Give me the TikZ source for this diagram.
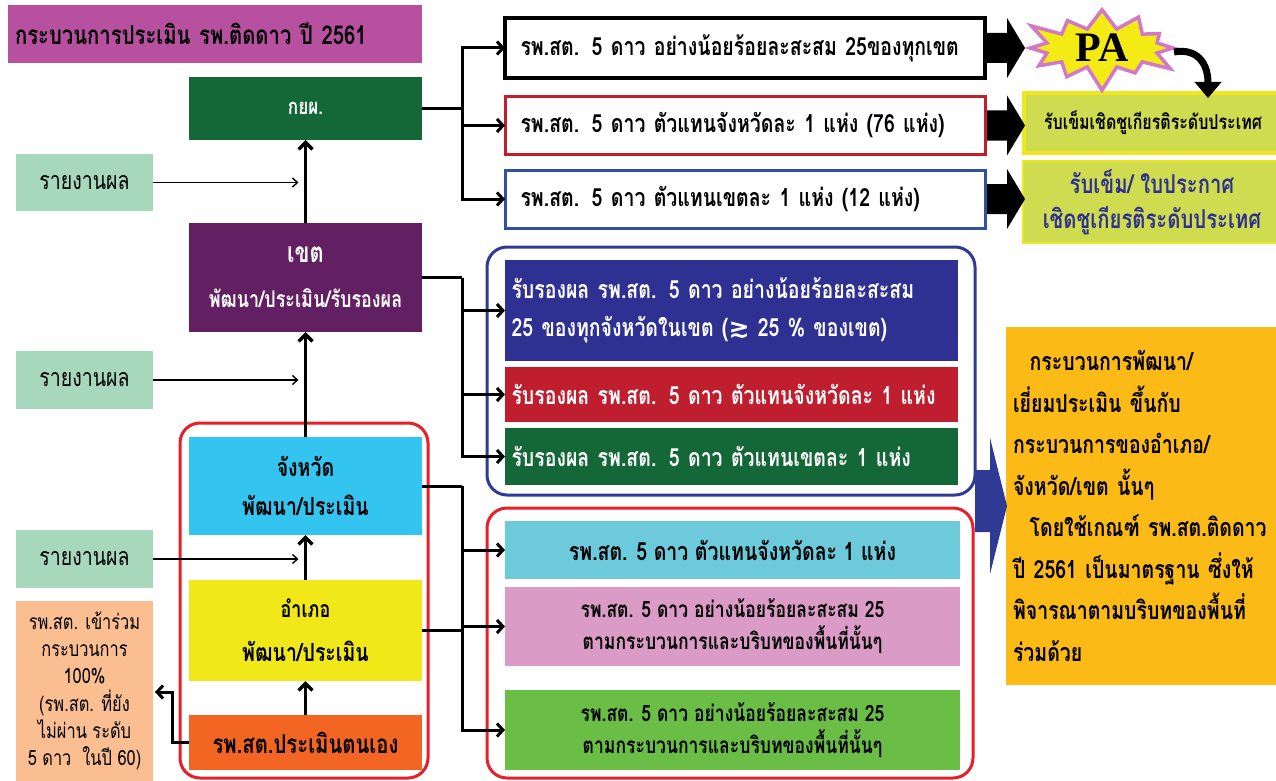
\documentclass[tikz,border=0pt]{standalone}
\usepackage{fontspec}
\newfontfamily\thai[Script=Thai,FakeStretch=0.78]{Loma}
\newfontfamily\pafont{Liberation Serif}
\newfontfamily\symfont{DejaVu Sans}
\usetikzlibrary{arrows.meta,shapes.symbols,calc}
\definecolor{cTitle}{RGB}{184,80,160}
\definecolor{cKyp}{RGB}{20,104,56}
\definecolor{cRep}{RGB}{168,216,188}
\definecolor{cKhet}{RGB}{98,32,98}
\definecolor{cChw}{RGB}{51,196,240}
\definecolor{cAmp}{RGB}{240,232,24}
\definecolor{cRps}{RGB}{242,101,34}
\definecolor{cPeach}{RGB}{250,190,145}
\definecolor{cNavy}{RGB}{46,49,146}
\definecolor{cRedB}{RGB}{190,30,45}
\definecolor{cD}{RGB}{108,202,218}
\definecolor{cE}{RGB}{218,155,198}
\definecolor{cF}{RGB}{106,189,69}
\definecolor{cGold}{RGB}{251,186,21}
\definecolor{cYG}{RGB}{208,220,80}
\definecolor{cYB}{RGB}{240,232,30}
\definecolor{cBlueF}{RGB}{46,58,148}
\definecolor{cBlue3}{RGB}{48,80,160}
\definecolor{cRedF}{RGB}{232,30,40}
\definecolor{cRed2}{RGB}{192,32,42}
\definecolor{cStarP}{RGB}{210,120,200}
\definecolor{cStarY}{RGB}{245,235,20}
\tikzset{
  bx/.style={inner sep=0pt, outer sep=0pt, anchor=north west, align=center, font=\thai\bfseries},
  conn/.style={line width=3pt, black},
  arr/.style={conn, -{Straight Barb[length=6pt,width=13pt]}},
  uparr/.style={line width=3.5pt, black, -{Straight Barb[length=7pt,width=14pt]}},
  thinarr/.style={line width=1.4pt, black, -{Straight Barb[length=5pt,width=9pt]}},
  frame/.style={line width=3pt, rounded corners=20pt},
}
\begin{document}
\begin{tikzpicture}[x=1pt,y=-1pt]
\useasboundingbox (0,0) rectangle (1276,781);
\clip (0,0) rectangle (1276,781);
\fill[white] (0,0) rectangle (1276,781);

% frames
\draw[frame, draw=cRedF] (180,423) rectangle (428,778);
\draw[frame, draw=cBlueF] (487,247) rectangle (975,495);
\draw[frame, draw=cRedF] (487,508) rectangle (973,778);

% title
\node[bx, fill=cTitle, minimum width=414pt, minimum height=58pt, text width=400pt, align=left, font=\thai\bfseries\fontsize{26}{30}\selectfont] (title) at (8,5) {กระบวนการประเมิน รพ.ติดดาว ปี 2561};

% left column
\node[bx, fill=cKyp, text=white, minimum width=233pt, minimum height=63pt, font=\thai\bfseries\fontsize{22}{26}\selectfont] (kyp) at (189,77) {กยผ.};
\node[bx, fill=cKhet, text=white, minimum width=233pt, minimum height=109pt, font=\thai\bfseries\fontsize{23}{45}\selectfont] (khet) at (189,223) {{\fontsize{28}{45}\selectfont เขต}\\พัฒนา/ประเมิน/รับรองผล};
\node[bx, fill=cChw, minimum width=233pt, minimum height=98pt, font=\thai\bfseries\fontsize{25}{39}\selectfont] (chw) at (189,437) {จังหวัด\\พัฒนา/ประเมิน};
\node[bx, fill=cAmp, minimum width=233pt, minimum height=101pt, font=\thai\bfseries\fontsize{23}{44}\selectfont] (amp) at (189,580) {อำเภอ\\{\fontsize{25}{44}\selectfont พัฒนา/ประเมิน}};
\node[bx, fill=cRps, minimum width=233pt, minimum height=55pt, font=\thai\bfseries\fontsize{26}{30}\selectfont] (rps) at (189,715) {รพ.สต.ประเมินตนเอง};

\node[bx, fill=cRep, minimum width=137pt, minimum height=57pt, font=\thai\fontsize{25}{28}\selectfont] (rep1) at (16,154) {รายงานผล};
\node[bx, fill=cRep, minimum width=137pt, minimum height=58pt, font=\thai\fontsize{25}{28}\selectfont] (rep2) at (16,351) {รายงานผล};
\node[bx, fill=cRep, minimum width=137pt, minimum height=58pt, font=\thai\fontsize{25}{28}\selectfont] (rep3) at (16,530) {รายงานผล};
\node[bx, fill=cPeach, minimum width=137pt, minimum height=180pt, font=\thai\fontsize{21}{27.3}\selectfont] (peach) at (16,601) {รพ.สต. เข้าร่วม\\กระบวนการ\\100\%\\(รพ.สต. ที่ยัง\\ไม่ผ่าน ระดับ\\5 ดาว~ ในปี 60)};

% top right outlined boxes
\node[bx, draw=black, line width=4pt, fill=white, minimum width=480pt, minimum height=60pt, text width=465pt, align=left, font=\thai\bfseries\fontsize{25}{29}\selectfont] (b1) at (505,18) {\hspace*{8pt}รพ.สต. 5 ดาว อย่างน้อยร้อยละสะสม 25ของทุกเขต};
\node[bx, draw=cRed2, line width=3pt, fill=white, minimum width=480pt, minimum height=57pt, text width=465pt, align=left, font=\thai\bfseries\fontsize{25}{29}\selectfont] (b2) at (505,97) {\hspace*{8pt}รพ.สต. 5 ดาว ตัวแทนจังหวัดละ 1 แห่ง (76 แห่ง)};
\node[bx, draw=cBlue3, line width=3pt, fill=white, minimum width=480pt, minimum height=58pt, text width=465pt, align=left, font=\thai\bfseries\fontsize{25}{29}\selectfont] (b3) at (505,170) {\hspace*{8pt}รพ.สต. 5 ดาว ตัวแทนเขตละ 1 แห่ง (12 แห่ง)};

% award boxes
\node[bx, draw=cYB, line width=4pt, fill=cYG, minimum width=258pt, minimum height=60pt, font=\thai\bfseries\fontsize{20.5}{24}\selectfont] (aw1) at (1024,93) {รับเข็มเชิดชูเกียรติระดับประเทศ};
\node[bx, draw=cYB, line width=2pt, fill=cYG, text=cNavy, minimum width=258pt, minimum height=82pt, font=\thai\bfseries\fontsize{26}{35}\selectfont] (aw2) at (1023,161) {รับเข็ม/ ใบประกาศ\\เชิดชูเกียรติระดับประเทศ};

% PA starburst
\node[starburst, starburst points=12, starburst point height=26pt, fill=cStarY, draw=cStarP, line width=3.5pt, minimum width=166pt, minimum height=62pt, inner sep=0pt, font=\pafont\bfseries\fontsize{42}{42}\selectfont] (pa) at (1102,48) {PA};

% blue box group
\node[bx, fill=cNavy, text=white, minimum width=453pt, minimum height=101pt, text width=440pt, align=left, font=\thai\bfseries\fontsize{25}{38}\selectfont] (ba) at (505,260) {รับรองผล รพ.สต. 5 ดาว อย่างน้อยร้อยละสะสม\\25 ของทุกจังหวัดในเขต ({\symfont ≳} 25 \% ของเขต)};
\node[bx, fill=cRedB, text=white, minimum width=453pt, minimum height=55pt, text width=440pt, align=left, font=\thai\bfseries\fontsize{25}{29}\selectfont] (bb) at (505,367) {รับรองผล รพ.สต. 5 ดาว ตัวแทนจังหวัดละ 1 แห่ง};
\node[bx, fill=cKyp, text=white, minimum width=453pt, minimum height=57pt, text width=440pt, align=left, font=\thai\bfseries\fontsize{25}{29}\selectfont] (bc) at (505,428) {รับรองผล รพ.สต. 5 ดาว ตัวแทนเขตละ 1 แห่ง};

% red box group
\node[bx, fill=cD, minimum width=455pt, minimum height=58pt, font=\thai\bfseries\fontsize{25}{29}\selectfont] (bd) at (505,521) {รพ.สต. 5 ดาว ตัวแทนจังหวัดละ 1 แห่ง};
\node[bx, fill=cE, minimum width=455pt, minimum height=79pt, font=\thai\bfseries\fontsize{22.5}{32}\selectfont] (be) at (505,587) {รพ.สต. 5 ดาว อย่างน้อยร้อยละสะสม 25\\ตามกระบวนการและบริบทของพื้นที่นั้นๆ};
\node[bx, fill=cF, minimum width=455pt, minimum height=80pt, font=\thai\bfseries\fontsize{22.5}{32}\selectfont] (bf) at (505,690) {รพ.สต. 5 ดาว อย่างน้อยร้อยละสะสม 25\\ตามกระบวนการและบริบทของพื้นที่นั้นๆ};

% gold note
\node[bx, fill=cGold, minimum width=270pt, minimum height=358pt, text width=264pt, align=left, font=\thai\bfseries\fontsize{25}{41.5}\selectfont] (note) at (1006,327) {\hspace*{4pt}~~กระบวนการพัฒนา/\\\hspace*{4pt}เยี่ยมประเมิน ขึ้นกับ\\\hspace*{4pt}กระบวนการของอำเภอ/\\\hspace*{4pt}จังหวัด/เขต นั้นๆ\\\hspace*{4pt}~~โดยใช้เกณฑ์ รพ.สต.ติดดาว\\\hspace*{4pt}ปี 2561 เป็นมาตรฐาน ซึ่งให้\\\hspace*{4pt}พิจารณาตามบริบทของพื้นที่\\\hspace*{4pt}ร่วมด้วย};

% blue big arrow
\fill[cBlueF] (975,470) -- (990,470) -- (990,438) -- (1007,506) -- (990,574) -- (990,532) -- (975,532) -- cycle;

% vertical arrows in left column
\draw[uparr] (khet.north) -- (kyp.south);
\draw[uparr] (chw.north) -- (khet.south);
\draw[uparr] (amp.north) -- (chw.south);
\draw[uparr] (rps.north) -- (amp.south);

% report arrows
\coordinate (e1) at ($(rep1.east -| kyp.south)+(-7,0)$);
\coordinate (e2) at ($(rep2.east -| kyp.south)+(-7,0)$);
\coordinate (e3) at ($(rep3.east -| kyp.south)+(-7,0)$);
\draw[thinarr] (rep1.east) -- (e1);
\draw[thinarr] (rep2.east) -- (e2);
\draw[thinarr] (rep3.east) -- (e3);

% self-assessment to peach
\coordinate (pin) at ($(peach.north east)+(2,91)$);
\draw[arr] (rps.west) -- ++(-17,0) |- (pin);

% branching from kyp
\coordinate (j1) at ($(kyp.east)+(40,0)$);
\draw[conn] (kyp.east) -- (j1);
\draw[arr] (j1) |- (b1.west);
\draw[arr] (j1) |- (b2.west);
\draw[arr] (j1) |- (b3.west);

% branching from khet
\coordinate (j2) at ($(khet.east)+(40,0)$);
\draw[conn] (khet.east) -- (j2);
\draw[arr] (j2) |- (ba.west);
\draw[arr] (j2) |- (bb.west);
\draw[arr] (j2) |- (bc.west);

% branching from changwat and amphoe
\coordinate (j3) at ($(chw.east)+(40,0)$);
\coordinate (j4) at ($(amp.east)+(40,0)$);
\draw[conn] (chw.east) -- (j3);
\draw[conn] (amp.east) -- (j4);
\draw[arr] (j3) |- (bd.west);
\draw[arr] (j3) |- (be.west);
\draw[arr] (j3) |- (bf.west);

% block arrows to awards
\foreach \n in {b1,b2,b3}{
  \fill (\n.east) ++(2,-15) -- ++(20,0) -- ++(0,-15) -- ++(18,30) -- ++(-18,30) -- ++(0,-15) -- ++(-20,0) -- cycle;
}

% curved arrow from PA
\coordinate (pcs) at (1174,52);
\coordinate (pce) at (1208,98);
\draw[line width=7pt, -{Triangle[length=16pt,width=26pt]}] (pcs) .. controls (1196,48) and (1208,62) .. (pce);
\end{tikzpicture}
\end{document}
